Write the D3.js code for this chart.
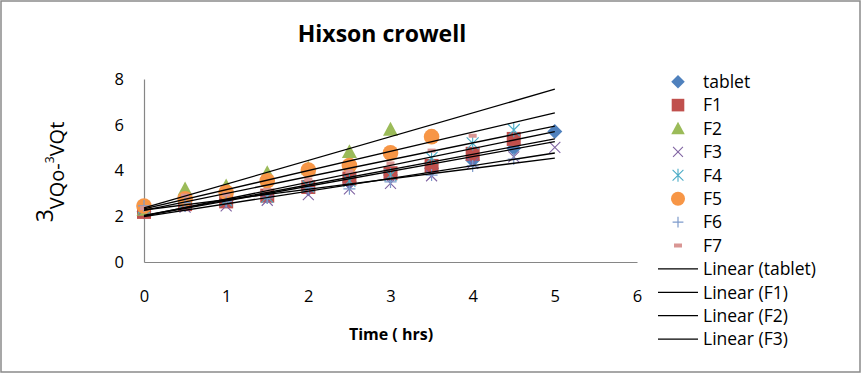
<!DOCTYPE html>
<html><head><meta charset="utf-8">
<script src="https://cdn.jsdelivr.net/npm/d3@7"></script>
<style>body{margin:0;background:#fff}svg{display:block}text{font-family:"Open Sans",sans-serif;fill:#000}</style>
</head><body><svg id="c" width="862" height="374"></svg>
<script>
const times = [0,0.5,1,1.5,2,2.5,3,3.5,4,4.5,5];
const xTicks = [0,1,2,3,4,5,6];
const yTicks = [0,2,4,6,8];
const seriesNames = ["tablet","F1","F2","F3","F4","F5","F6","F7"];
const tablet = [2.2,2.5,2.7,2.9,3.2,3.5,3.8,4.1,4.45,4.97,5.7];
const F1 = [2.19,2.53,2.65,2.9,3.28,3.65,3.88,4.2,4.73,5.38];
const F2 = [2.3,3.19,3.32,3.9,4.1,4.82,5.8];
const F3 = [2.3,2.4,2.45,2.7,2.95,3.2,3.44,3.77,4.31,4.6,5.01];
const F4 = [2.4,2.6,2.7,2.85,3.3,3.55,3.8,4.55,5.19,5.77];
const F5 = [2.45,2.76,3.05,3.55,4.02,4.22,4.77,5.48];
const F6 = [2.45,2.6,2.65,2.8,3.25,3.2,3.5,3.8,4.2,4.5];
const F7 = [2.35,2.9,2.95,3.15,3.6,3.95,4.31,4.87,5.52];
const seriesValues = [tablet,F1,F2,F3,F4,F5,F6,F7];
const legendLinear = ["Linear (tablet)","Linear (F1)","Linear (F2)","Linear (F3)"];

const colors = ["#4F81BD","#C0504D","#9BBB59","#8064A2","#4BACC6","#F79646","#7E9BCB","#D99694"];
const svg = d3.select("#c");
svg.append("rect").attr("x",1).attr("y",1).attr("width",859).attr("height",371).attr("fill","#fff").attr("stroke","#8a8a8a").attr("stroke-width",1.5);

const x = d3.scaleLinear().domain([0,6]).range([144,637]);
const y = d3.scaleLinear().domain([0,8]).range([262,79]);

// axes
const ax = svg.append("g").attr("transform","translate(0,262)").call(d3.axisBottom(x).tickValues(xTicks).tickFormat(d3.format("d")).tickSize(0));
const ay = svg.append("g").attr("transform","translate(144,0)").call(d3.axisLeft(y).tickValues(yTicks).tickFormat(d3.format("d")).tickSize(0).tickPadding(20));
[ax,ay].forEach(g=>{
  g.select(".domain").attr("stroke","#868686").attr("stroke-width",1.2);
  g.selectAll("text").style("font-size","16.5px").style("font-family","Open Sans").attr("fill","#000");
});
ax.selectAll("text").attr("dy",0).attr("y",40);

// markers
function drawMarker(g, i, cx, cy, legend){
  const c = colors[i];
  const s = legend ? 0.9 : 1;
  if(i===0){ const r=7.5*s; g.append("path").attr("d",`M${cx},${cy-r}L${cx+r},${cy}L${cx},${cy+r}L${cx-r},${cy}Z`).attr("fill",c); }
  else if(i===1){ const h=7*s; g.append("rect").attr("x",cx-h).attr("y",cy-h).attr("width",2*h).attr("height",2*h).attr("fill",c); }
  else if(i===2){ const h=7.5*s; g.append("path").attr("d",`M${cx},${cy-h}L${cx+h},${cy+h*0.85}L${cx-h},${cy+h*0.85}Z`).attr("fill",c); }
  else if(i===3){ const h=5.5*s; g.append("path").attr("d",`M${cx-h},${cy-h}L${cx+h},${cy+h}M${cx+h},${cy-h}L${cx-h},${cy+h}`).attr("stroke",c).attr("stroke-width",1.1).attr("fill","none"); }
  else if(i===4){ const h=6*s; g.append("path").attr("d",`M${cx-h},${cy-h}L${cx+h},${cy+h}M${cx+h},${cy-h}L${cx-h},${cy+h}M${cx},${cy-h*1.2}L${cx},${cy+h*1.2}`).attr("stroke",c).attr("stroke-width",1.1).attr("fill","none"); }
  else if(i===5){ g.append("circle").attr("cx",cx).attr("cy",cy).attr("r",7.8*s).attr("fill",c); }
  else if(i===6){ const h=6*s; g.append("path").attr("d",`M${cx-h},${cy}L${cx+h},${cy}M${cx},${cy-h}L${cx},${cy+h}`).attr("stroke",c).attr("stroke-width",1.2).attr("fill","none"); }
  else if(i===7){ g.append("rect").attr("x",cx-4).attr("y",cy-2).attr("width",8).attr("height",4).attr("fill",c); }
}
const mg = svg.append("g");
seriesValues.forEach((vals,i)=>{
  vals.forEach((v,j)=>drawMarker(mg,i,x(times[j]),y(v),false));
});

// linear trend lines (least squares) from 0 to 5
function fit(vals){
  const xs = times.slice(0,vals.length);
  const mx = d3.mean(xs), my = d3.mean(vals);
  let sxy=0,sxx=0; xs.forEach((t,k)=>{sxy+=(t-mx)*(vals[k]-my); sxx+=(t-mx)*(t-mx);});
  const b = sxy/sxx; return [my-b*mx, b];
}
const line = d3.line().x(d=>x(d[0])).y(d=>y(d[1]));
seriesValues.forEach(vals=>{
  const [a,b] = fit(vals);
  svg.append("path").attr("d",line([[0,a],[5,a+5*b]])).attr("stroke","#000").attr("stroke-width",1.3).attr("fill","none");
});

// title
svg.append("text").attr("x",382).attr("y",42).attr("text-anchor","middle").style("font-size","23px").style("font-weight","bold").text("Hixson crowell");
svg.append("text").attr("x",391).attr("y",340).attr("text-anchor","middle").style("font-size","16px").style("font-weight","bold").text("Time ( hrs)");

// y label
const yl = svg.append("text").attr("transform","translate(64,172) rotate(-90)").attr("text-anchor","middle");
yl.append("tspan").style("font-size","23px").attr("dy",-11).text("3");
yl.append("tspan").style("font-size","20px").attr("dy",11).text("VQo-");
yl.append("tspan").style("font-size","12px").attr("dy",-10).text("3");
yl.append("tspan").style("font-size","20px").attr("dy",10).text("VQt");

// legend
const lg = svg.append("g");
const rowY = i => 81.7 + i*23.4;
seriesNames.forEach((n,i)=>{
  drawMarker(lg,i,678,rowY(i),true);
  lg.append("text").attr("x",703).attr("y",rowY(i)).attr("dy","0.36em").style("font-size","17.5px").text(n);
});
legendLinear.forEach((n,k)=>{
  const i = k+8;
  lg.append("line").attr("x1",658).attr("x2",698).attr("y1",rowY(i)).attr("y2",rowY(i)).attr("stroke","#000").attr("stroke-width",1.2);
  lg.append("text").attr("x",703).attr("y",rowY(i)).attr("dy","0.36em").style("font-size","17.5px").text(n);
});
</script></body></html>
